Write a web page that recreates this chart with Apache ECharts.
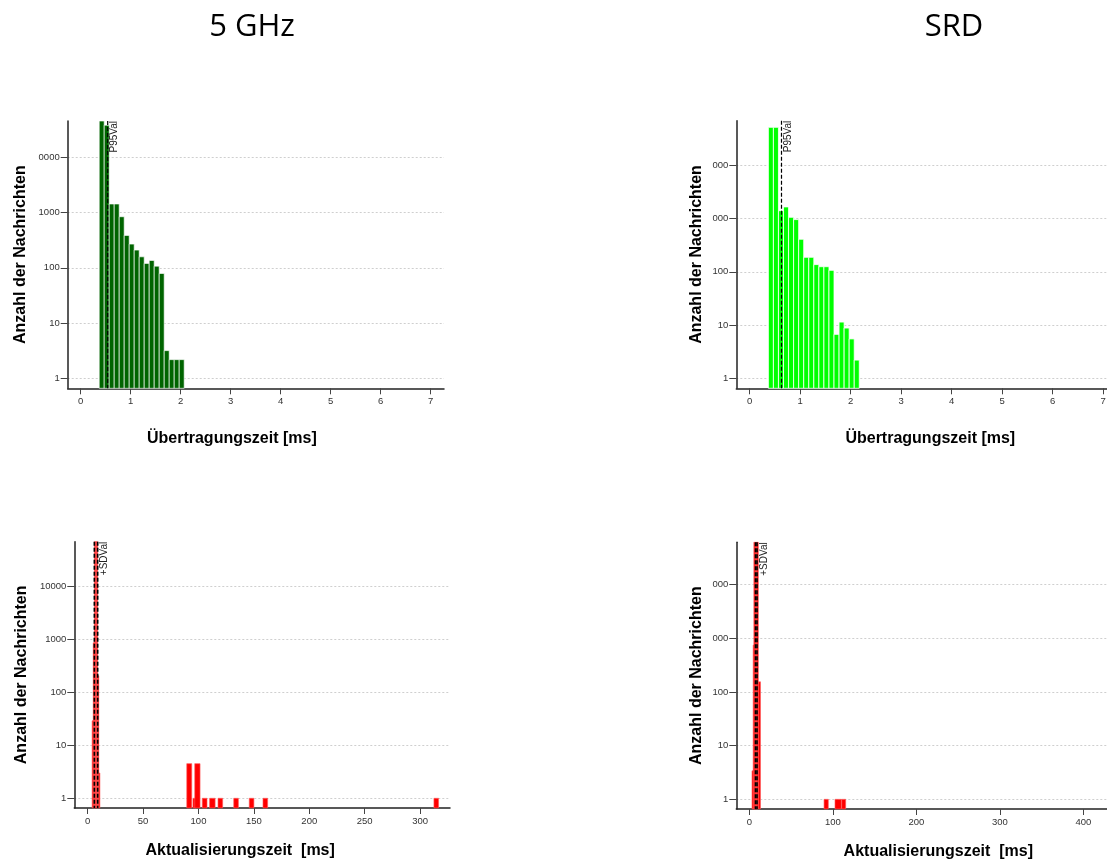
<!DOCTYPE html>
<html>
<head>
<meta charset="utf-8">
<title>Übertragungszeit / Aktualisierungszeit</title>
<script src="https://cdn.jsdelivr.net/npm/echarts@6/dist/echarts.min.js"></script>
<style>
html, body { margin: 0; padding: 0; background: #fff; }
#main { width: 1107px; height: 859px; }
</style>
</head>
<body>
<div id="main"></div>
<script>
// log ticks shared by all four panels
var tickValues = [1, 10, 100, 1000, 10000];
// the left edge of the original plots was cut off, so some labels lost digits
var ghzTxTickLabels = ['1', '10', '100', '1000', '0000'];
var srdTxTickLabels = ['1', '10', '100', '000', '000'];
var ghzUpdTickLabels = ['1', '10', '100', '1000', '10000'];
var srdUpdTickLabels = ['1', '10', '100', '000', '000'];

var txTicks = [0, 1, 2, 3, 4, 5, 6, 7];
var ghzUpdTicks = [0, 50, 100, 150, 200, 250, 300];
var srdUpdTicks = [0, 100, 200, 300, 400];

// 5 GHz - Übertragungszeit (bin edges in ms, counts)
var ghzTxEdges = [0.37, 0.47, 0.57, 0.67, 0.77, 0.87, 0.97, 1.07, 1.17, 1.27, 1.37, 1.47, 1.57, 1.67, 1.77, 1.87, 1.97, 2.07];
var ghzTxCounts = [52000, 37600, 1420, 1420, 836, 385, 268, 209, 158, 120, 136, 107, 79, 3.2, 2.2, 2.2, 2.2];
var ghzTxMarks = [0.54];
var ghzTxMarkLabels = ['P95Val'];

// SRD - Übertragungszeit
var srdTxEdges = [0.37, 0.47, 0.57, 0.67, 0.77, 0.87, 0.97, 1.07, 1.17, 1.27, 1.37, 1.47, 1.57, 1.67, 1.77, 1.87, 1.97, 2.07, 2.17];
var srdTxCounts = [52000, 52000, 1410, 1660, 1060, 960, 410, 188, 188, 137, 125, 125, 107, 6.7, 11.4, 8.8, 5.5, 2.2];
var srdTxMarks = [0.63];
var srdTxMarkLabels = ['P95Val'];

// 5 GHz - Aktualisierungszeit (bar start, bar end, count)
var ghzUpdStart = [4, 5, 6, 7, 8, 9, 10, 89.4, 95.0, 96.6, 103.4, 110.0, 117.6, 131.8, 145.8, 158.2, 312.5];
var ghzUpdEnd = [5, 6, 7, 8, 9, 10, 11, 93.9, 97.6, 101.4, 107.7, 115.0, 121.8, 136.0, 150.0, 162.4, 316.7];
var ghzUpdCounts = [29, 860, 90000, 90000, 90000, 205, 3, 4.5, 1, 4.5, 1, 1, 1, 1, 1, 1, 1];
var ghzUpdMarks = [6.0, 9.0];
var ghzUpdMarkLabels = ['', '+SDVal'];

// SRD - Aktualisierungszeit
var srdUpdStart = [3.2, 4.6, 5.4, 7, 9, 10.8, 89.5, 102.6, 110.6];
var srdUpdEnd = [5.0, 6.4, 7, 9, 10.8, 13.4, 94.6, 110.2, 115.4];
var srdUpdCounts = [3.4, 750, 90000, 90000, 90000, 155, 1, 1, 1];
var srdUpdMarks = [7.4, 9.2];
var srdUpdMarkLabels = ['', '+SDVal'];

var FONT = '"Liberation Sans", Arial, sans-serif';

function fromEdges(edges, counts) {
  return counts.map(function (c, i) { return [edges[i], edges[i + 1], c]; });
}
function fromRanges(start, end, counts) {
  return counts.map(function (c, i) { return [start[i], end[i], c]; });
}

function histSeries(idx, bars, fill, stroke) {
  return {
    type: 'custom',
    xAxisIndex: idx,
    yAxisIndex: idx,
    silent: true,
    data: bars,
    encode: { x: [0, 1], y: 2 },
    renderItem: function (params, api) {
      var cs = params.coordSys;
      var n = api.value(2);
      var p0 = api.coord([api.value(0), n]);
      var p1 = api.coord([api.value(1), n]);
      var top = Math.max(p0[1], cs.y);
      var bottom = cs.y + cs.height;
      return {
        type: 'rect',
        shape: { x: p0[0], y: top, width: p1[0] - p0[0], height: bottom - top },
        style: { fill: fill, stroke: stroke, lineWidth: 1 }
      };
    }
  };
}

function markSeries(idx, marks, labels, width) {
  return {
    type: 'custom',
    xAxisIndex: idx,
    yAxisIndex: idx,
    silent: true,
    z: 5,
    data: marks.map(function (m) { return [m, 1]; }),
    encode: { x: 0, y: 1 },
    renderItem: function (params, api) {
      var cs = params.coordSys;
      var x = api.coord([api.value(0), 1])[0];
      var kids = [{
        type: 'line',
        shape: { x1: x, y1: cs.y, x2: x, y2: cs.y + cs.height },
        style: { stroke: '#000', lineWidth: width, lineDash: [4, 2] }
      }];
      var txt = labels[params.dataIndex];
      if (txt) {
        kids.push({
          type: 'text',
          x: x + 2,
          y: cs.y,
          rotation: Math.PI / 2,
          style: { text: txt, fill: '#222', font: '10px ' + FONT, align: 'right', verticalAlign: 'top' }
        });
      }
      return { type: 'group', children: kids };
    }
  };
}

function xAxisOf(idx, min, max, ticks, name, gap, shift) {
  return {
    type: 'value', gridIndex: idx, min: min, max: max,
    axisLine: { onZero: false, lineStyle: { color: '#222', width: 1.5 } },
    axisTick: { length: 6, lineStyle: { color: '#444' }, customValues: ticks },
    axisLabel: { customValues: ticks, fontSize: 9.5, color: '#333', fontFamily: FONT, margin: 8 },
    splitLine: { show: false },
    name: name, nameLocation: 'middle', nameGap: gap,
    nameTextStyle: {
      fontSize: 16, fontWeight: 'bold', color: '#000', fontFamily: FONT,
      padding: shift < 0 ? [0, -2 * shift, 0, 0] : [0, 0, 0, 2 * shift]
    }
  };
}

function yAxisOf(idx, min, max, labels, gap) {
  return {
    type: 'log', logBase: 10, gridIndex: idx, min: min, max: max,
    axisLine: { show: true, onZero: false, lineStyle: { color: '#222', width: 1.5 } },
    axisTick: { show: true, length: 7, lineStyle: { color: '#444' } },
    axisLabel: {
      fontSize: 9.5, color: '#333', fontFamily: FONT, margin: 8,
      showMinLabel: false, showMaxLabel: false,
      formatter: function (v) {
        var k = Math.round(Math.log(v) / Math.LN10);
        return Math.abs(Math.pow(10, k) - v) < 1e-6 * v && labels[k] != null ? labels[k] : '';
      }
    },
    splitLine: { show: true, showMinLine: false, showMaxLine: false, lineStyle: { color: '#cfcfcf', type: [2, 2], width: 1 } },
    name: 'Anzahl der Nachrichten', nameLocation: 'middle', nameGap: gap,
    nameTextStyle: { fontSize: 16, fontWeight: 'bold', color: '#000', fontFamily: FONT }
  };
}

var chart = echarts.init(document.getElementById('main'));

chart.setOption({
  animation: false,
  backgroundColor: '#fff',
  title: [
    { text: '5 GHz', left: 252, top: 12, textAlign: 'center', padding: 0,
      textStyle: { fontFamily: '"Open Sans", sans-serif', fontSize: 31, fontWeight: 'normal', color: '#000' } },
    { text: 'SRD', left: 954, top: 12, textAlign: 'center', padding: 0,
      textStyle: { fontFamily: '"Open Sans", sans-serif', fontSize: 31, fontWeight: 'normal', color: '#000' } }
  ],
  grid: [
    { left: 67.7, top: 121, width: 376.3, height: 267.3, outerBoundsMode: 'none' },
    { left: 736.3, top: 120.7, width: 378, height: 267.6, outerBoundsMode: 'none' },
    { left: 74.3, top: 541.7, width: 375.7, height: 266.3, outerBoundsMode: 'none' },
    { left: 736.3, top: 542.3, width: 376, height: 266.7, outerBoundsMode: 'none' }
  ],
  xAxis: [
    xAxisOf(0, -0.26, 7.266, txTicks, 'Übertragungszeit [ms]', 42, -24),
    xAxisOf(1, -0.265, 7.22, txTicks, 'Übertragungszeit [ms]', 42, 5),
    xAxisOf(2, -12.1, 327, ghzUpdTicks, 'Aktualisierungszeit  [ms]', 35, -22),
    xAxisOf(3, -15.6, 434.7, srdUpdTicks, 'Aktualisierungszeit  [ms]', 35, 14)
  ],
  yAxis: [
    yAxisOf(0, 0.668, 44700, ghzTxTickLabels, 39),
    yAxisOf(1, 0.649, 69200, srdTxTickLabels, 32),
    yAxisOf(2, 0.656, 69200, ghzUpdTickLabels, 45),
    yAxisOf(3, 0.66, 61700, srdUpdTickLabels, 32)
  ],
  series: [
    histSeries(0, fromEdges(ghzTxEdges, ghzTxCounts), '#006400', 'rgba(255,255,255,0.65)'),
    histSeries(1, fromEdges(srdTxEdges, srdTxCounts), '#00ff00', 'rgba(255,255,255,0.8)'),
    histSeries(2, fromRanges(ghzUpdStart, ghzUpdEnd, ghzUpdCounts), '#ff0000', 'rgba(255,90,90,0.6)'),
    histSeries(3, fromRanges(srdUpdStart, srdUpdEnd, srdUpdCounts), '#ff0000', 'rgba(255,90,90,0.6)'),
    markSeries(0, ghzTxMarks, ghzTxMarkLabels, 1.2),
    markSeries(1, srdTxMarks, srdTxMarkLabels, 1.2),
    markSeries(2, ghzUpdMarks, ghzUpdMarkLabels, 1.6),
    markSeries(3, srdUpdMarks, srdUpdMarkLabels, 1.6)
  ]
});
</script>
</body>
</html>
